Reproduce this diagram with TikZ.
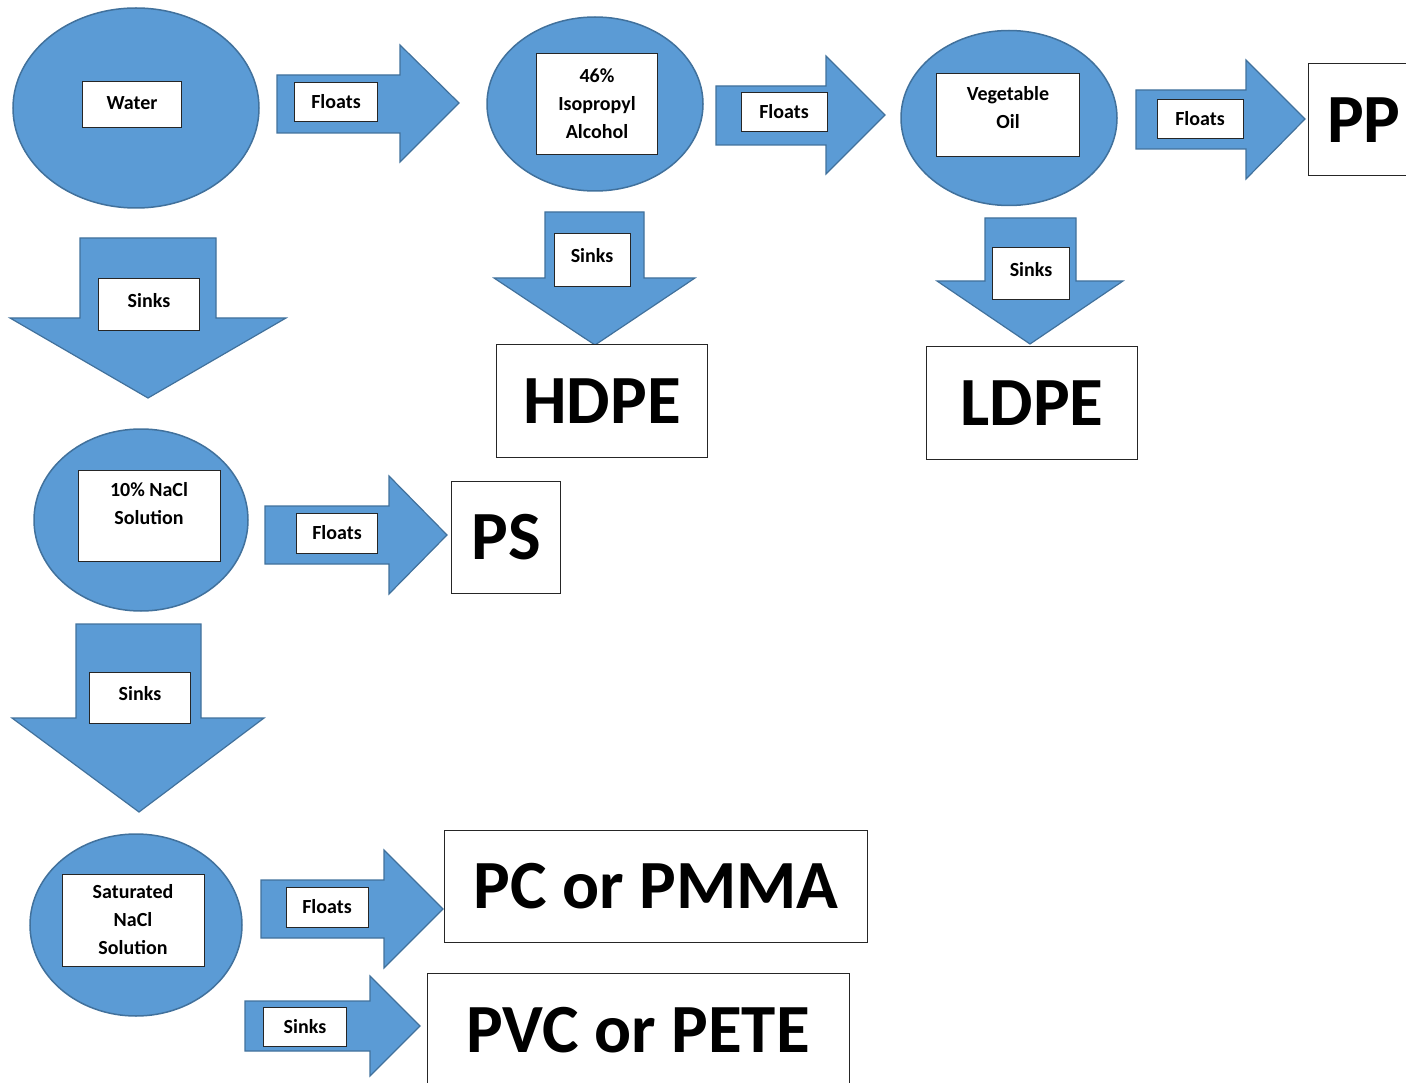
\documentclass[tikz,border=0pt]{standalone}
\usepackage{fontspec}
\setmainfont{Carlito}
\usepackage{tikz}
\usetikzlibrary{shapes.geometric}
\definecolor{tankblue}{HTML}{5B9BD5}
\definecolor{tankedge}{HTML}{41719C}

\begin{document}
\begin{tikzpicture}[x=1pt,y={(0,-1pt)},
		tank/.style={draw=tankedge,fill=tankblue,ellipse,line width=1.5pt,inner sep=0pt},
		tag/.style={draw=black!85,fill=white,line width=1pt,inner sep=0pt,align=center,font=\fontsize{20}{28}\selectfont\bfseries},
		result/.style={draw=black!85,fill=white,line width=1pt,inner sep=0pt,align=center,font=\fontsize{69}{80}\selectfont\bfseries},
		blockarrow/.style={draw=tankedge,fill=tankblue,line width=1.2pt,line join=miter}]
		\useasboundingbox (0,0) rectangle (1406,1083);
		% liquids
		\node[tank,minimum width=246,minimum height=200] (water) at (136,108) {};
		\node[tank,minimum width=216,minimum height=174] (ipa) at (595,104) {};
		\node[tank,minimum width=216,minimum height=175] (oil) at (1009,118) {};
		\node[tank,minimum width=214,minimum height=182] (nacl) at (141,520) {};
		\node[tank,minimum width=212,minimum height=182] (sat) at (136,925) {};
		\node[tag,minimum width=99,minimum height=46,text depth=4pt] (twater) at (132,105) {Water};
		\node[tag,minimum width=121,minimum height=101] (tipa) at (597,104) {46\%\\Isopropyl\\Alcohol};
		\node[tag,minimum width=143,minimum height=83,text depth=16pt] (toil) at (1008,115) {Vegetable\\Oil};
		\node[tag,minimum width=142,minimum height=91,text depth=26pt] (tnacl) at (149,516) {10\% NaCl\\Solution};
		\node[tag,minimum width=142,minimum height=92] (tsat) at (133,920) {Saturated\\NaCl\\Solution};
		% floats arrows
		\draw[blockarrow] (277,75) -- (400,75) -- (400,45) -- (459,103) -- (400,162) -- (400,133) -- (277,133) -- cycle;
		\draw[blockarrow] (716,86) -- (826,86) -- (826,56) -- (885,115) -- (826,174) -- (826,145) -- (716,145) -- cycle;
		\draw[blockarrow] (1136,90) -- (1246,90) -- (1246,60) -- (1305,119) -- (1246,179) -- (1246,149) -- (1136,149) -- cycle;
		\draw[blockarrow] (265,506) -- (389,506) -- (389,476) -- (447,535) -- (389,594) -- (389,564) -- (265,564) -- cycle;
		\draw[blockarrow] (261,880) -- (384,880) -- (384,850) -- (443,909) -- (384,968) -- (384,938) -- (261,938) -- cycle;
		\draw[blockarrow] (245,1001) -- (370,1001) -- (370,976) -- (420,1026) -- (370,1076) -- (370,1051) -- (245,1051) -- cycle;
		% sinks arrows
		\draw[blockarrow] (80,238) -- (216,238) -- (216,318) -- (286,318) -- (148,398) -- (10,318) -- (80,318) -- cycle;
		\draw[blockarrow] (545,212) -- (644,212) -- (644,278) -- (695,278) -- (595,345) -- (494,278) -- (545,278) -- cycle;
		\draw[blockarrow] (985,218) -- (1076,218) -- (1076,281) -- (1123,281) -- (1030,344) -- (937,281) -- (985,281) -- cycle;
		\draw[blockarrow] (76,624) -- (201,624) -- (201,718) -- (264,718) -- (139,812) -- (12,718) -- (76,718) -- cycle;
		\node[tag,minimum width=83,minimum height=39] (f1) at (336,102) {Floats};
		\node[tag,minimum width=86,minimum height=39] (f2) at (784,112) {Floats};
		\node[tag,minimum width=86,minimum height=39] (f3) at (1200,119) {Floats};
		\node[tag,minimum width=81,minimum height=40] (f4) at (337,533) {Floats};
		\node[tag,minimum width=82,minimum height=40] (f5) at (327,907) {Floats};
		\node[tag,minimum width=83,minimum height=39] (s6) at (305,1027) {Sinks};
		\node[tag,minimum width=101,minimum height=52,text depth=9pt] (s1) at (149,305) {Sinks};
		\node[tag,minimum width=76,minimum height=53,text depth=10pt] (s2) at (592,260) {Sinks};
		\node[tag,minimum width=77,minimum height=52,text depth=9pt] (s3) at (1031,274) {Sinks};
		\node[tag,minimum width=101,minimum height=51,text depth=9pt] (s4) at (140,698) {Sinks};
		% plastics
		\node[result,minimum width=111,minimum height=112] (pp) at (1364,120) {PP};
		\node[result,minimum width=211,minimum height=112] (hdpe) at (602,401) {HDPE};
		\node[result,minimum width=211,minimum height=112] (ldpe) at (1032,403) {LDPE};
		\node[result,minimum width=109,minimum height=112] (ps) at (506,537) {PS};
		\node[result,minimum width=423,minimum height=112] (pc) at (656,886) {PC or PMMA};
		\node[result,minimum width=422,minimum height=114] (pvc) at (638,1030) {PVC or PETE};
\end{tikzpicture}
\end{document}
